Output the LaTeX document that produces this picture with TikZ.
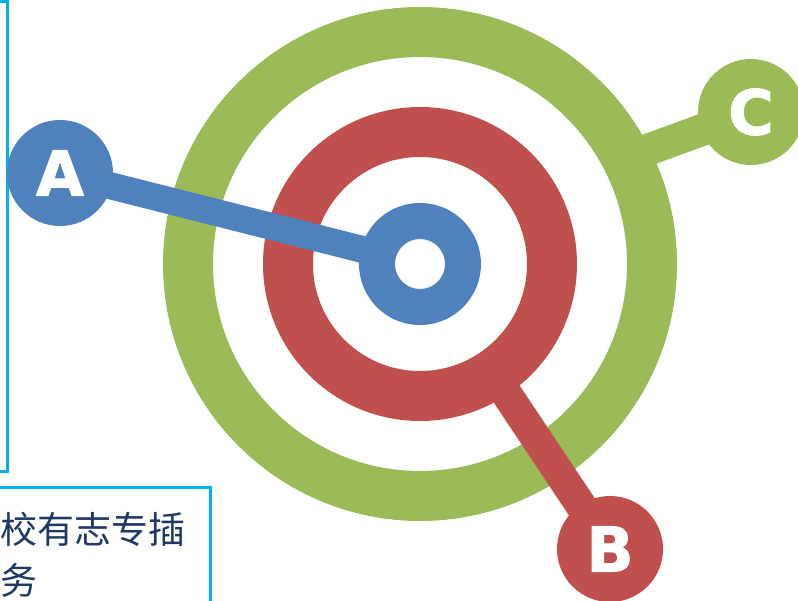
\documentclass[tikz,border=0pt]{standalone}
\usepackage{fontspec}
\newfontfamily\letterfont{DejaVu Sans}[BoldFeatures={FakeBold=1.6}]
\newfontfamily\cjkfont{Noto Sans CJK SC}
\usetikzlibrary{calc}
\definecolor{ringblue}{HTML}{4F81BD}
\definecolor{ringred}{HTML}{C0504D}
\definecolor{ringgreen}{HTML}{9BBB59}
\definecolor{framecol}{HTML}{00B0F0}
\definecolor{textcol}{HTML}{1F3864}
\begin{document}
\begin{tikzpicture}[x=1pt,y=-1pt,
  frame/.style={draw=framecol,line width=3pt},
  ring/.style={line width=50pt},
  bar/.style={line width=#1},
  badge/.style={circle,fill=#1,minimum size=106pt,inner sep=0pt,text=white,
    font=\letterfont\bfseries\fontsize{62}{62}\selectfont},
  cjktext/.style={anchor=west,inner sep=0pt,text=textcol,
    font=\cjkfont\fontsize{37}{37}\selectfont}]
\useasboundingbox (0,0) rectangle (798,601);
% frames
\draw[frame] (-20,1.5) rectangle (7,471.5);
\draw[frame] (-20,487.5) rectangle (210,640);
\node[cjktext] (t1) at (0.5,529) {校有志专插};
\node[cjktext] (t2) at (0.5,580) {务};
% coordinates
\coordinate (ctr) at (420,264);
\coordinate (pa) at (60,173);
\coordinate (pb) at (610,549);
\coordinate (pc) at (751,112);
\coordinate (cend) at (620,160);
\coordinate (aend) at ($(ctr)!45pt!(pa)$);
% green ring + bar
\draw[ringgreen,ring] (ctr) circle[radius=232];
\draw[ringgreen,bar=32pt] (pc) -- (cend);
% red ring + bar
\draw[ringred,ring] (ctr) circle[radius=132];
\draw[ringred,bar=31pt] ($(ctr)!120pt!(pb)$) -- (pb);
% blue bar + ring
\draw[ringblue,bar=27pt] (pa) -- (aend);
\draw[ringblue,line width=36pt] (ctr) circle[radius=43];
% badges
\node[badge=ringblue] (A) at (pa) {A};
\node[badge=ringred] (B) at (pb) {B};
\node[badge=ringgreen] (C) at (pc) {C};
\end{tikzpicture}
\end{document}
